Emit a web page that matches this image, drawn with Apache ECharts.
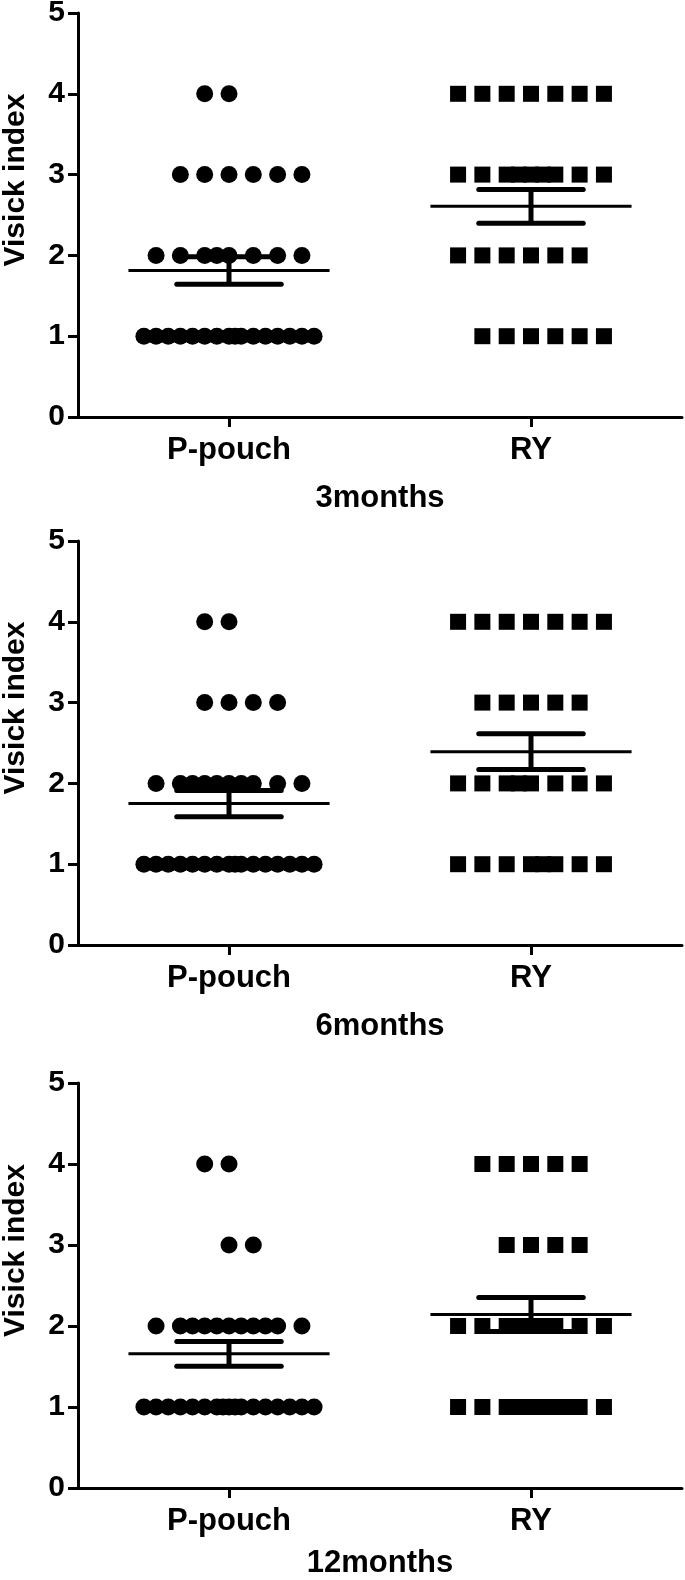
<!DOCTYPE html>
<html>
<head>
<meta charset="utf-8">
<script src="https://cdn.jsdelivr.net/npm/echarts@6/dist/echarts.min.js"></script>
<style>
html,body{margin:0;padding:0;background:#fff;}
#chart{width:685px;height:1580px;}
</style>
</head>
<body>
<div id="chart"></div>
<script>
// ---- data ----
const categories = ['P-pouch', 'RY'];
const panelTitles = ['3months', '6months', '12months'];
const yTicks = [0, 1, 2, 3, 4, 5];
const yAxisTitle = 'Visick index';

// Each group: list of [Visick score, horizontal slot offsets of the dots drawn at that score]
const pouch3m = [
  [4, [-1, 0]],
  [3, [-2, -1, 0, 1, 2, 3]],
  [2, [-3, -2, -1, -0.5, 0, 1, 2, 3]],
  [1, [-3.5, -3, -2.5, -2, -1.5, -1, -0.5, 0, 0.25, 0.5, 1, 1.5, 2, 2.5, 3, 3.5]]
];
const ry3m = [
  [4, [-3, -2, -1, 0, 1, 2, 3]],
  [3, [-3, -2, -1, -0.5, 0, 0.5, 1, 2, 3]],
  [2, [-3, -2, -1, 0, 1, 2]],
  [1, [-2, -1, 0, 1, 2, 3]]
];
const pouch6m = [
  [4, [-1, 0]],
  [3, [-1, 0, 1, 2]],
  [2, [-3, -2, -1.5, -1, -0.5, 0, 0.5, 1, 2, 3]],
  [1, [-3.5, -3, -2.5, -2, -1.5, -1, -0.5, 0, 0.25, 0.5, 1, 1.5, 2, 2.5, 3, 3.5]]
];
const ry6m = [
  [4, [-3, -2, -1, 0, 1, 2, 3]],
  [3, [-2, -1, 0, 1, 2]],
  [2, [-3, -2, -1, -0.5, 0, 1, 2, 3]],
  [1, [-3, -2, -1, 0, 0.5, 1, 2, 3]]
];
const pouch12m = [
  [4, [-1, 0]],
  [3, [0, 1]],
  [2, [-3, -2, -1.5, -1, -0.5, 0, 0.5, 1, 1.5, 2, 3]],
  [1, [-3.5, -3, -2.5, -2, -1.5, -1, -0.5, -0.25, 0, 0.25, 0.5, 1, 1.5, 2, 2.5, 3, 3.5]]
];
const ry12m = [
  [4, [-2, -1, 0, 1, 2]],
  [3, [-1, 0, 1, 2]],
  [2, [-3, -2, -1, -0.5, 0, 0.5, 1, 2, 3]],
  [1, [-3, -2, -1, -0.5, 0, 0.5, 1, 1.5, 2, 3]]
];

// ---- layout / style (not data) ----
const panels = [
  { pouch: pouch3m, ry: ry3m, top: 13, height: 404, nameGap: 66 },
  { pouch: pouch6m, ry: ry6m, top: 541, height: 404, nameGap: 66 },
  { pouch: pouch12m, ry: ry12m, top: 1083, height: 405, nameGap: 60 }
];
const SLOT = 0.0805;       // dot spacing in x-axis units
const MEAN_HALF = 0.333;   // half-width of mean line
const SEM_HALF = 0.173;    // half-width of SEM caps
const FONT = "'Liberation Sans', Arial, sans-serif";

function points(groupIndex, rows) {
  const out = [];
  rows.forEach(([v, slots]) => slots.forEach(s => out.push([groupIndex + s * SLOT, v])));
  return out;
}
function values(rows) {
  const out = [];
  rows.forEach(([v, slots]) => slots.forEach(() => out.push(v)));
  return out;
}
function meanSem(arr) {
  const n = arr.length;
  const m = arr.reduce((a, b) => a + b, 0) / n;
  const sd = Math.sqrt(arr.reduce((a, b) => a + (b - m) * (b - m), 0) / (n - 1));
  return [m, sd / Math.sqrt(n)];
}

const grids = [], xAxes = [], yAxes = [], series = [];
panels.forEach((p, i) => {
  grids.push({ left: 78, right: 3, top: p.top, height: p.height, containLabel: false, outerBoundsMode: 'none' });
  xAxes.push({
    type: 'value', gridIndex: i, min: -0.5, max: 1.5,
    splitLine: { show: false },
    axisLine: { show: true, onZero: false, lineStyle: { color: '#000', width: 3 } },
    axisTick: { show: true, length: 10, customValues: [0, 1], lineStyle: { color: '#000', width: 3 } },
    axisLabel: { customValues: [0, 1], formatter: v => categories[Math.round(v)], margin: 18,
      color: '#000', fontSize: 31, fontWeight: 'bold', fontFamily: FONT },
    name: panelTitles[i], nameLocation: 'middle', nameGap: p.nameGap,
    nameTextStyle: { color: '#000', fontSize: 31, fontWeight: 'bold', fontFamily: FONT }
  });
  yAxes.push({
    type: 'value', gridIndex: i, min: yTicks[0], max: yTicks[yTicks.length - 1], interval: 1,
    splitLine: { show: false },
    axisLine: { show: true, onZero: false, lineStyle: { color: '#000', width: 3 } },
    axisTick: { show: true, length: 10, lineStyle: { color: '#000', width: 3 } },
    axisLabel: { margin: 13, color: '#000', fontSize: 30, fontWeight: 'bold', fontFamily: FONT },
    name: yAxisTitle, nameLocation: 'middle', nameGap: 47, nameRotate: 90,
    nameTextStyle: { color: '#000', fontSize: 30, fontWeight: 'bold', fontFamily: FONT, padding: [0, 0, 0, 70] }
  });
  series.push({
    type: 'scatter', xAxisIndex: i, yAxisIndex: i, symbol: 'circle', symbolSize: 17,
    itemStyle: { color: '#000', opacity: 1 }, data: points(0, p.pouch), silent: true, z: 2
  });
  series.push({
    type: 'scatter', xAxisIndex: i, yAxisIndex: i, symbol: 'rect', symbolSize: 16,
    itemStyle: { color: '#000', opacity: 1 }, data: points(1, p.ry), silent: true, z: 2
  });
  const stats = [[0, ...meanSem(values(p.pouch))], [1, ...meanSem(values(p.ry))]];
  series.push({
    type: 'custom', xAxisIndex: i, yAxisIndex: i, data: stats, z: 3, silent: true,
    renderItem: function (params, api) {
      const x = api.value(0), m = api.value(1), s = api.value(2);
      const ml = api.coord([x - MEAN_HALF, m]), mr = api.coord([x + MEAN_HALF, m]);
      const tl = api.coord([x - SEM_HALF, m + s]), tr = api.coord([x + SEM_HALF, m + s]);
      const bl = api.coord([x - SEM_HALF, m - s]), br = api.coord([x + SEM_HALF, m - s]);
      const thick = { stroke: '#000', lineWidth: 5, lineCap: 'round' };
      return {
        type: 'group',
        children: [
          { type: 'line', shape: { x1: ml[0], y1: ml[1], x2: mr[0], y2: mr[1] }, style: { stroke: '#000', lineWidth: 3 } },
          { type: 'line', shape: { x1: tl[0], y1: tl[1], x2: tr[0], y2: tr[1] }, style: thick },
          { type: 'line', shape: { x1: bl[0], y1: bl[1], x2: br[0], y2: br[1] }, style: thick },
          { type: 'line', shape: { x1: (tl[0] + tr[0]) / 2, y1: tl[1], x2: (bl[0] + br[0]) / 2, y2: bl[1] }, style: { stroke: '#000', lineWidth: 5 } }
        ]
      };
    }
  });
});

const chart = echarts.init(document.getElementById('chart'), null, { renderer: 'canvas' });
chart.setOption({
  animation: false,
  backgroundColor: '#fff',
  grid: grids,
  xAxis: xAxes,
  yAxis: yAxes,
  series: series
});
</script>
</body>
</html>
